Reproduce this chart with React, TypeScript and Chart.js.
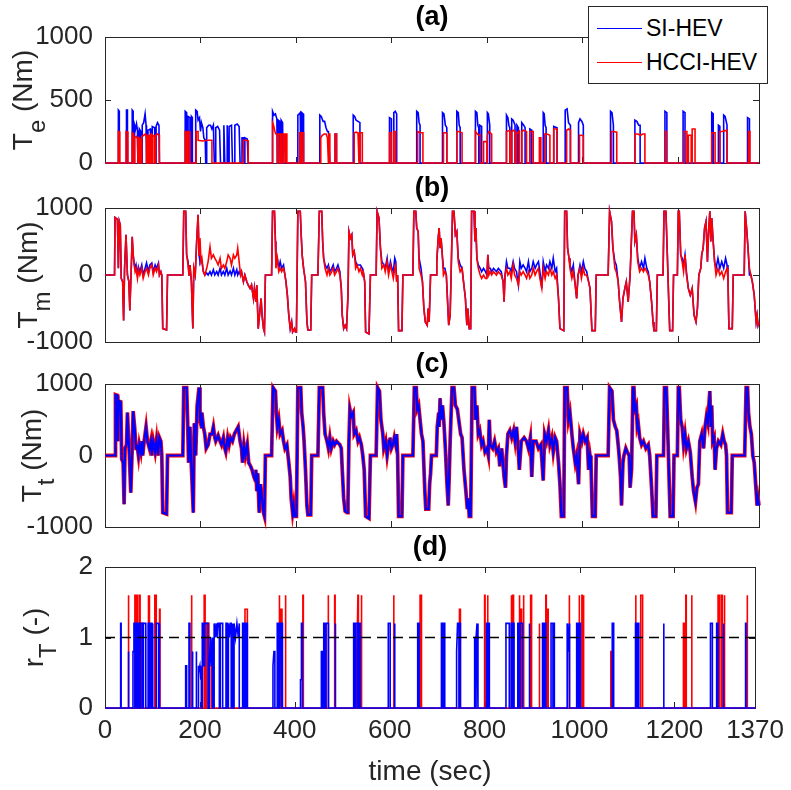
import React, { useEffect, useRef } from "react";
import { Chart, registerables } from "chart.js";

Chart.register(...registerables);

type Pt = [number, number];

// ---------- axes / labels ----------
const timeTicks = [0, 200, 400, 600, 800, 1000, 1200, 1370];
const engineTicks = [0, 500, 1000];
const torqueTicks = [-1000, 0, 1000];
const ratioTicks = [0, 1, 2];
const seriesNames = ["SI-HEV", "HCCI-HEV"];
const ratioThreshold = 1;

// ---------- (a) engine torque T_e ----------
const siEngine: Pt[] = [
  [0, 0], [28, 0], [28, 420], [30, 410], [30, 0],
  [45, 0], [45, 420], [47, 420], [47, 0],
  [57, 0], [57, 420], [59, 410], [59, 0],
  [62, 0], [62, 300], [64, 270], [66, 310], [68, 260], [69, 0],
  [72, 0], [72, 270], [75, 250], [76, 0],
  [78, 0], [78, 300], [81, 320], [84, 390], [86, 300], [87, 0],
  [90, 0], [90, 260], [95, 270], [96, 0],
  [99, 0], [99, 290], [104, 280], [105, 0],
  [107, 0], [107, 290], [110, 320], [113, 300], [114, 0],
  [168, 0], [168, 410], [171, 400], [171, 0],
  [174, 0], [174, 370], [178, 360], [178, 0],
  [181, 0], [181, 370], [183, 360], [183, 0],
  [190, 0], [190, 420], [193, 410], [195, 340], [198, 360], [200, 250], [202, 320], [205, 280], [207, 200], [210, 180], [211, 0],
  [213, 0], [213, 280], [217, 300], [221, 300], [224, 270], [227, 300], [229, 0],
  [231, 0], [232, 280], [236, 290], [240, 260], [242, 0],
  [249, 0], [249, 300], [251, 0], [256, 0], [256, 300], [258, 0],
  [260, 0], [260, 290], [265, 300], [267, 0],
  [272, 0], [272, 300], [277, 310], [281, 290], [283, 0],
  [287, 0], [287, 200], [290, 200], [291, 0], [293, 0], [293, 200], [298, 190], [300, 0],
  [351, 0], [351, 410], [354, 380], [357, 390], [360, 350], [361, 0],
  [363, 0], [363, 340], [366, 330], [367, 0], [369, 0], [369, 340], [372, 320], [373, 0],
  [404, 0], [404, 380], [407, 390], [409, 400], [410, 0], [412, 0], [412, 400], [415, 390], [416, 0],
  [450, 0], [450, 380], [453, 370], [457, 330], [460, 330], [463, 280], [466, 250], [468, 250], [471, 0],
  [482, 0], [482, 230], [485, 230], [485, 0],
  [520, 0], [520, 380], [523, 370], [526, 340], [530, 330], [534, 320], [534, 0],
  [596, 0], [596, 360], [600, 350], [600, 0],
  [605, 0], [605, 400], [608, 410], [611, 390], [611, 0],
  [653, 0], [653, 410], [656, 400], [658, 320], [660, 300], [660, 0],
  [707, 0], [707, 400], [710, 390], [713, 300], [716, 280], [716, 0],
  [737, 0], [737, 410], [740, 400], [742, 300], [744, 280], [744, 0],
  [776, 0], [776, 410], [779, 400], [781, 300], [783, 280], [783, 0], [785, 0], [785, 300], [789, 290], [789, 0],
  [801, 0], [801, 400], [803, 390], [806, 300], [806, 0],
  [841, 0], [841, 380], [844, 360], [846, 300], [848, 280], [848, 0],
  [852, 0], [852, 350], [855, 340], [859, 300], [859, 0],
  [863, 0], [863, 300], [866, 280], [866, 0],
  [873, 0], [873, 320], [877, 300], [880, 280], [880, 0],
  [890, 0], [890, 270], [894, 260], [894, 0],
  [918, 0], [918, 400], [920, 390], [922, 300], [924, 280], [924, 0],
  [940, 0], [940, 290], [947, 280], [947, 0],
  [964, 0], [964, 420], [968, 430], [971, 320], [975, 300], [975, 0],
  [992, 0], [992, 320], [995, 350], [999, 330], [1002, 300], [1002, 0],
  [1059, 0], [1059, 410], [1062, 400], [1065, 300], [1065, 0],
  [1110, 0], [1110, 340], [1114, 330], [1118, 300], [1121, 300], [1121, 0],
  [1173, 0], [1173, 410], [1177, 400], [1177, 0],
  [1211, 0], [1211, 410], [1215, 400], [1215, 0],
  [1271, 0], [1271, 400], [1274, 390], [1274, 0],
  [1285, 0], [1285, 300], [1288, 290], [1288, 0],
  [1296, 0], [1296, 380], [1299, 370], [1303, 300], [1303, 0],
  [1346, 0], [1346, 360], [1350, 350], [1350, 0],
  [1370, 0],
];

const hcciEngine: Pt[] = [
  [0, 0], [28, 0], [28, 250], [31, 245], [31, 0],
  [44, 0], [44, 250], [48, 245], [48, 0],
  [57, 0], [57, 240], [60, 230], [60, 0],
  [62, 0], [62, 200], [66, 210], [68, 190], [69, 0],
  [71, 0], [71, 200], [74, 190], [74, 0],
  [77, 0], [77, 210], [81, 220], [84, 230], [87, 200], [87, 0],
  [89, 0], [89, 220], [92, 210], [92, 0], [94, 0], [94, 220], [97, 230], [97, 0],
  [100, 0], [100, 220], [104, 210], [104, 0], [106, 0], [106, 220], [110, 230], [114, 220], [114, 0],
  [168, 0], [168, 250], [171, 245], [171, 0],
  [174, 0], [174, 250], [178, 245], [178, 0],
  [191, 0], [191, 250], [195, 250], [195, 180], [205, 175], [215, 180], [224, 180], [224, 0],
  [290, 0], [290, 180], [296, 180], [300, 175], [300, 0],
  [351, 0], [351, 320], [353, 300], [356, 250], [358, 230], [361, 230], [361, 0],
  [363, 0], [363, 230], [367, 230], [367, 0], [369, 0], [369, 230], [373, 230], [373, 0],
  [375, 0], [375, 230], [378, 230], [378, 0], [379, 0], [379, 230], [381, 230], [381, 0],
  [408, 0], [408, 240], [410, 240], [410, 0], [412, 0], [412, 240], [416, 240], [416, 0],
  [452, 0], [452, 200], [455, 220], [459, 230], [463, 230], [466, 200], [468, 0], [469, 0], [469, 230], [471, 230], [471, 0],
  [482, 0], [482, 230], [485, 230], [485, 0],
  [522, 0], [522, 240], [526, 245], [530, 240], [532, 0], [534, 0], [534, 240], [539, 240], [539, 0],
  [596, 0], [596, 240], [600, 240], [600, 0],
  [605, 0], [605, 250], [609, 250], [609, 0],
  [655, 0], [655, 250], [658, 245], [662, 240], [666, 240], [666, 0],
  [709, 0], [709, 240], [713, 240], [716, 235], [716, 0],
  [737, 0], [737, 250], [741, 250], [745, 245], [748, 240], [748, 0],
  [776, 0], [776, 250], [780, 230], [783, 220], [786, 225], [786, 0],
  [793, 0], [793, 170], [800, 170], [800, 0],
  [801, 0], [801, 220], [804, 250], [807, 240], [810, 230], [810, 0],
  [841, 0], [841, 250], [845, 255], [848, 260], [848, 0], [852, 0], [852, 250], [856, 260], [859, 250], [859, 0],
  [862, 0], [862, 230], [866, 250], [868, 255], [868, 0], [873, 0], [873, 250], [877, 260], [880, 255], [883, 250], [883, 0],
  [890, 0], [890, 250], [897, 250], [897, 0],
  [910, 0], [910, 200], [913, 200], [913, 0],
  [921, 0], [921, 230], [926, 230], [932, 220], [932, 0],
  [940, 0], [940, 270], [947, 270], [947, 0],
  [967, 0], [967, 260], [971, 270], [975, 260], [975, 0],
  [994, 0], [994, 220], [998, 220], [1002, 215], [1002, 0],
  [1061, 0], [1061, 250], [1065, 250], [1072, 245], [1072, 0],
  [1110, 0], [1110, 230], [1116, 230], [1122, 220], [1126, 230], [1131, 230], [1131, 0],
  [1174, 0], [1174, 250], [1176, 250], [1176, 0],
  [1213, 0], [1213, 250], [1219, 250], [1219, 0], [1222, 0], [1222, 220], [1228, 220], [1228, 0], [1230, 0], [1230, 270], [1236, 270], [1236, 0],
  [1271, 0], [1271, 240], [1278, 240], [1278, 0],
  [1288, 0], [1288, 250], [1293, 250], [1297, 255], [1303, 260], [1303, 0],
  [1348, 0], [1348, 250], [1351, 250], [1351, 0],
  [1370, 0],
];

// ---------- (b) motor torque T_m ----------
const siMotor: Pt[] = [
  [0, 0], [20, 0], [21, 860], [26, 830], [28, 100], [30, 800], [32, 750], [34, -50], [37, -100], [39, -680], [41, 100], [44, 600], [47, 0], [50, -100], [52, -530], [55, 100], [57, 570], [59, 300], [61, 180], [63, 100], [65, 150], [68, 0], [70, 120], [73, 50], [77, 150], [80, 0], [84, 100], [87, 180], [91, 50], [94, 150], [98, 180], [101, 50], [105, 150], [108, 100], [112, 180], [114, 0], [117, 50], [119, 0], [121, -800], [129, -820], [131, 0],
  [163, 0], [165, 950], [169, 950], [171, 300], [174, 200], [176, 0], [178, 150], [181, -100], [184, -800], [186, 100], [189, 0], [192, 500], [195, 900], [197, 300], [199, 200], [201, 250], [203, 200], [206, 50], [209, 0], [213, 30], [216, 0], [220, 50], [223, 0], [227, 80], [230, 0], [234, 50], [237, 0], [241, 100], [244, 0], [248, 50], [251, 0], [255, 100], [258, 0], [262, 60], [265, 0], [269, 100], [272, 0], [276, 80], [278, 0], [281, 50], [284, 0], [286, 50], [290, -100], [293, 0], [297, -100], [300, -150], [304, -200], [307, -150], [311, -350], [313, -200], [316, -400], [318, -150], [321, -800], [325, -500], [327, -350], [329, -600], [332, -800], [334, -850], [336, 0],
  [349, 0], [351, 950], [355, 950], [357, 500], [358, 200], [361, 250], [364, 100], [367, 200], [370, 100], [374, 150], [377, 0], [379, -100], [382, -300], [385, -600], [388, -800], [391, -700], [393, -850], [397, -800], [399, -850], [401, -850], [404, 950], [409, 950], [411, 600], [413, 300], [416, 100], [418, 0], [420, -100], [423, -700], [425, -820], [431, -820], [433, 0],
  [446, 0], [449, 950], [454, 950], [456, 500], [458, 250], [461, 150], [465, 100], [468, 150], [471, 50], [475, 100], [478, 150], [481, 50], [485, 100], [488, 150], [492, 50], [495, -200], [497, -600], [500, -800], [503, -750], [506, -800], [509, -300], [511, 650], [514, 550], [517, 600], [519, 300], [522, 350], [525, 200], [528, 150], [532, 150], [535, 150], [539, 100], [541, 50], [544, -100], [546, -850], [553, -880], [556, 0],
  [568, 0], [570, 950], [574, 850], [577, 400], [580, 200], [584, 150], [587, 100], [591, 250], [594, 50], [598, 200], [601, 100], [604, 50], [607, 250], [609, 200], [611, -100], [613, 0], [615, -830], [622, -830], [624, 0],
  [645, 0], [647, 950], [651, 950], [653, 700], [656, 650], [658, 250], [662, 100], [665, -100], [668, -500], [671, -700], [675, -750], [677, -500], [679, -700], [682, 0],
  [694, 0], [695, 200], [698, 550], [700, 700], [702, 400], [704, 550], [706, 350], [709, 100], [712, 100], [715, 0], [717, -300], [720, -750], [723, -600], [725, 0], [728, 950], [731, 950], [734, 600], [737, 650], [740, 250], [744, 150], [748, 100], [751, -100], [755, -350], [758, -750], [760, -500], [763, -800], [766, -800], [768, 950], [773, 950], [775, 500], [777, 700], [779, 250], [782, 150], [786, 100], [789, 50], [793, 100], [797, 50], [800, 0], [802, 300], [804, 100], [807, 100], [810, 50], [814, 100], [820, 50], [824, 100], [830, 50], [834, -100], [836, -400], [838, 0], [841, 200], [844, 100], [848, 100], [851, 50], [855, 200], [858, 100], [862, 50], [866, -150], [869, 200], [872, 100], [876, 150], [880, 100], [883, 50], [887, 200], [890, 50], [894, 100], [897, 200], [901, 100], [904, 150], [908, 200], [911, 50], [915, -200], [918, 200], [922, 50], [925, 150], [929, 100], [932, 200], [936, 100], [939, 250], [943, 50], [946, 100], [950, -350], [953, -800], [961, -830], [963, 950], [967, 950], [969, 400], [972, 250], [974, 150], [978, 50], [981, 150], [985, -150], [988, -350], [991, 0], [995, 150], [998, 50], [1002, 200], [1005, 100], [1009, 50], [1013, -100], [1016, -200], [1020, -830], [1027, -830], [1029, 0],
  [1054, 0], [1057, 950], [1061, 800], [1064, 400], [1068, 200], [1071, 150], [1075, -100], [1078, -400], [1082, -700], [1085, -350], [1089, -200], [1092, -100], [1096, -400], [1100, 0], [1105, 950], [1108, 950], [1110, 500], [1113, 600], [1116, 250], [1120, 100], [1124, 200], [1128, 100], [1131, 250], [1135, 100], [1138, 50], [1141, -100], [1145, -400], [1148, -700], [1150, -830], [1155, -830], [1157, 0], [1169, 0], [1171, 950], [1175, 950], [1178, 300], [1181, -400], [1183, -830], [1189, -830], [1191, 0], [1199, 0], [1201, 950], [1203, 950], [1206, 300], [1209, 250], [1212, 150], [1215, 300], [1218, 50], [1222, -200], [1226, -300], [1230, -200], [1234, -600], [1238, -700], [1241, -500], [1244, 0], [1248, 100], [1250, 300], [1253, 400], [1256, 700], [1259, 800], [1262, 200], [1264, 600], [1267, 950], [1269, 500], [1271, 850], [1274, 500], [1277, 200], [1280, 100], [1284, 250], [1288, 100], [1292, 200], [1296, 100], [1300, 250], [1303, 150], [1305, -50], [1307, -800], [1314, -800], [1316, 0], [1339, 0], [1341, 950], [1344, 700], [1347, 400], [1350, 0], [1353, 0], [1356, -100], [1360, -300], [1364, -700], [1366, -600], [1368, -750], [1370, -700],
];

const hcciMotor: Pt[] = [
  [0, 0], [20, 0], [21, 860], [26, 830], [28, 100], [30, 800], [32, 750], [34, -50], [37, -100], [39, -680], [41, 100], [44, 600], [47, 0], [50, -100], [52, -530], [55, 100], [57, 570], [59, 300], [61, 150], [63, 50], [65, 100], [68, -50], [70, 80], [73, 0], [77, 100], [80, -50], [84, 50], [87, 100], [91, 0], [94, 100], [98, 150], [101, 0], [105, 100], [108, 50], [112, 150], [114, 0], [117, 50], [119, 0], [121, -800], [129, -820], [131, 0],
  [163, 0], [165, 950], [169, 950], [171, 300], [174, 150], [176, 0], [178, 150], [181, -100], [184, -800], [186, 100], [189, 0], [192, 500], [195, 900], [197, 300], [199, 550], [201, 200], [203, 250], [206, 50], [209, 0], [213, 100], [216, 200], [220, 420], [223, 250], [227, 300], [230, 250], [234, 200], [237, 150], [241, 250], [244, 100], [248, 150], [251, 100], [255, 200], [258, 300], [262, 250], [265, 150], [269, 300], [272, 250], [276, 300], [278, 400], [281, 200], [284, 0], [286, 50], [290, -100], [293, 0], [297, -100], [300, -150], [304, -200], [307, -150], [311, -350], [313, -200], [316, -400], [318, -150], [321, -800], [325, -500], [327, -350], [329, -600], [332, -800], [334, -850], [336, 0],
  [349, 0], [351, 950], [355, 950], [357, 500], [358, 100], [361, 250], [364, 50], [367, 100], [370, 50], [374, 100], [377, 0], [379, -100], [382, -300], [385, -600], [388, -800], [391, -700], [393, -850], [397, -800], [399, -850], [401, -850], [404, 950], [409, 950], [411, 600], [413, 300], [416, 100], [418, 0], [420, -100], [423, -700], [425, -820], [431, -820], [433, 0],
  [446, 0], [449, 950], [454, 950], [456, 500], [458, 250], [461, 100], [465, 0], [468, 100], [471, 0], [475, 50], [478, 100], [481, 0], [485, 50], [488, 100], [492, 0], [495, -200], [497, -600], [500, -800], [503, -750], [506, -800], [509, -300], [511, 650], [514, 550], [517, 600], [519, 300], [522, 350], [525, 100], [528, 150], [532, 50], [535, 100], [539, 0], [541, 50], [544, -100], [546, -850], [553, -880], [556, 0],
  [568, 0], [570, 950], [574, 850], [577, 400], [580, 100], [584, 150], [587, 50], [591, 200], [594, 0], [598, 150], [601, 50], [604, -50], [607, 100], [609, 150], [611, -100], [613, 0], [615, -830], [622, -830], [624, 0],
  [645, 0], [647, 950], [651, 950], [653, 700], [656, 650], [658, 100], [662, 0], [665, -100], [668, -500], [671, -700], [675, -750], [677, -500], [679, -700], [682, 0],
  [694, 0], [695, 200], [698, 550], [700, 700], [702, 400], [704, 550], [706, 350], [709, 0], [712, 50], [715, 0], [717, -300], [720, -750], [723, -600], [725, 0], [728, 950], [731, 950], [734, 600], [737, 650], [740, 200], [744, 50], [748, 100], [751, -100], [755, -350], [758, -750], [760, -500], [763, -800], [766, -800], [768, 950], [773, 950], [775, 500], [777, 700], [779, 250], [782, 100], [786, 0], [789, -50], [793, 0], [797, -50], [800, -50], [802, 300], [804, 0], [807, 50], [810, 0], [814, 50], [820, 0], [824, 50], [830, 0], [834, -100], [836, -400], [838, 0], [841, 100], [844, 0], [848, 50], [851, -50], [855, 150], [858, 0], [862, -50], [866, -150], [869, 50], [872, 0], [876, 50], [880, 0], [883, -50], [887, 50], [890, -50], [894, 0], [897, 100], [901, 0], [904, 50], [908, 100], [911, -50], [915, -200], [918, 100], [922, -50], [925, 50], [929, 0], [932, 100], [936, 0], [939, 50], [943, -50], [946, 0], [950, -350], [953, -800], [961, -830], [963, 950], [967, 950], [969, 400], [972, 250], [974, 100], [978, -50], [981, 50], [985, -150], [988, -350], [991, 0], [995, 100], [998, -50], [1002, 100], [1005, 0], [1009, 0], [1013, -100], [1016, -200], [1020, -830], [1027, -830], [1029, 0],
  [1054, 0], [1057, 950], [1061, 800], [1064, 400], [1068, 100], [1071, 50], [1075, -100], [1078, -400], [1082, -700], [1085, -350], [1089, -200], [1092, -100], [1096, -400], [1100, 0], [1105, 950], [1108, 950], [1110, 500], [1113, 600], [1116, 200], [1120, 50], [1124, 100], [1128, 50], [1131, 100], [1135, 50], [1138, 0], [1141, -100], [1145, -400], [1148, -700], [1150, -830], [1155, -830], [1157, 0], [1169, 0], [1171, 950], [1175, 950], [1178, 300], [1181, -400], [1183, -830], [1189, -830], [1191, 0], [1199, 0], [1201, 950], [1203, 950], [1206, 300], [1209, 200], [1212, 50], [1215, 300], [1218, 0], [1222, -200], [1226, -300], [1230, -200], [1234, -600], [1238, -700], [1241, -500], [1244, 0], [1248, 100], [1250, 300], [1253, 400], [1256, 700], [1259, 800], [1262, 200], [1264, 600], [1267, 950], [1269, 500], [1271, 850], [1274, 500], [1277, 200], [1280, 0], [1284, 100], [1288, 0], [1292, 50], [1296, -50], [1300, 50], [1303, 100], [1305, -50], [1307, -800], [1314, -800], [1316, 0], [1339, 0], [1341, 950], [1344, 700], [1347, 400], [1350, 100], [1353, 0], [1356, -100], [1360, -300], [1364, -700], [1366, -600], [1368, -750], [1370, -700],
];

// ---------- (c) total torque demand T_t (same for both vehicles) ----------
const totalTorque: Pt[] = [
  [0, 0], [21, 0], [22, 850], [26, 840], [27, 200], [29, 760], [33, 750], [35, -50], [38, -100], [40, -680], [42, 100], [45, 150], [47, 600], [49, 300], [51, 0], [54, -520], [57, 100], [59, 620], [62, 400], [65, 100], [67, 150], [70, 0], [72, 150], [75, 50], [77, 200], [79, 0], [82, 200], [86, 400], [89, 200], [93, 100], [96, 200], [98, 0], [101, 200], [105, 50], [108, 220], [111, 0], [114, 250], [117, 200], [119, 0], [121, -800], [129, -820], [131, 0],
  [163, 0], [165, 950], [171, 950], [173, 500], [175, -100], [178, 400], [180, 0], [185, -800], [187, 450], [190, 0], [193, 700], [197, 950], [199, 500], [202, 400], [203, 600], [206, 400], [209, 300], [212, 100], [216, 150], [220, 300], [224, 300], [227, 400], [230, 250], [232, 200], [237, 280], [241, 200], [244, 150], [248, 250], [251, 100], [253, 50], [257, 250], [260, 150], [263, 250], [267, 200], [271, 300], [279, 400], [283, 200], [286, 100], [288, -100], [291, 150], [294, 0], [298, 150], [301, -100], [305, -150], [308, -200], [312, -300], [315, -350], [316, -200], [318, -500], [320, -250], [323, -800], [326, -400], [329, -600], [332, -800], [334, -850], [336, 0],
  [349, 0], [352, 950], [357, 900], [359, 600], [361, 400], [364, 500], [367, 300], [371, 350], [374, 200], [377, 100], [381, 150], [385, -100], [388, -300], [390, -600], [393, -800], [395, -700], [397, -850], [401, -850], [404, 950], [410, 950], [412, 600], [415, 400], [417, 200], [420, -200], [423, -700], [425, -830], [431, -830], [433, 0],
  [446, 0], [449, 950], [456, 950], [458, 600], [461, 300], [465, 200], [468, 100], [471, 250], [474, 100], [478, 200], [481, 150], [485, 200], [492, 150], [495, 100], [497, -200], [500, -600], [503, -780], [507, -800], [509, -650], [511, 200], [513, 650], [516, 550], [520, 600], [522, 300], [526, 350], [530, 200], [533, 250], [537, 150], [540, 0], [543, -200], [546, -850], [553, -880], [556, 0],
  [568, 0], [571, 950], [575, 900], [578, 500], [582, 300], [584, 100], [588, 200], [591, 0], [595, 200], [597, 250], [600, 100], [603, 150], [606, 250], [609, 150], [611, 300], [613, 0], [615, -850], [622, -850], [624, 0],
  [645, 0], [648, 950], [652, 950], [654, 650], [657, 700], [660, 500], [663, 300], [666, 200], [670, -500], [672, -750], [678, -750], [680, -400], [682, -250], [684, 0],
  [694, 0], [696, 400], [699, 600], [700, 400], [702, 800], [704, 500], [707, 700], [710, 450], [713, 100], [716, -350], [719, -700], [721, -300], [723, 200], [727, 950], [731, 950], [734, 700], [738, 650], [741, 500], [745, 300], [748, 250], [752, -200], [756, -500], [759, -750], [761, -600], [763, -850], [766, -850], [769, 950], [774, 950], [776, 500], [779, 700], [782, 300], [785, 350], [789, 150], [792, 200], [796, 50], [800, 100], [803, 0], [805, 500], [807, 150], [812, 100], [816, 200], [820, 50], [824, 100], [827, -150], [831, 100], [836, -300], [839, -450], [841, 0], [844, 300], [848, 350], [852, 250], [856, 350], [859, 200], [862, 400], [865, 150], [868, -200], [872, 200], [878, 250], [883, 200], [887, 100], [891, 250], [894, -300], [897, 200], [903, 200], [908, 100], [913, 150], [918, -350], [921, 300], [925, 200], [929, 350], [932, 150], [936, 250], [939, 50], [943, 250], [946, 200], [950, -100], [953, -400], [956, -850], [961, -850], [963, 950], [968, 950], [971, 500], [974, 600], [978, 300], [981, 100], [985, -100], [988, 0], [992, -400], [995, 300], [999, 200], [1002, 300], [1006, 200], [1010, 250], [1013, -200], [1016, 0], [1018, -100], [1021, -850], [1027, -850], [1029, 0],
  [1054, 0], [1057, 950], [1062, 900], [1065, 500], [1069, 400], [1072, 350], [1075, 150], [1077, 0], [1080, -300], [1082, -700], [1085, -100], [1087, 0], [1091, 100], [1094, 50], [1098, 0], [1100, -450], [1103, -200], [1106, 950], [1108, 950], [1110, 650], [1113, 700], [1115, 400], [1117, 450], [1120, 250], [1124, 150], [1128, 200], [1133, 100], [1138, 150], [1141, 0], [1145, -450], [1148, -850], [1154, -850], [1156, 0], [1170, 0], [1172, 950], [1176, 950], [1179, 300], [1182, -400], [1184, -850], [1190, -850], [1192, 0], [1199, 0], [1201, 950], [1203, 950], [1206, 500], [1209, 400], [1212, 150], [1215, 300], [1218, 100], [1222, 200], [1226, 50], [1230, -300], [1233, -500], [1237, -650], [1240, -450], [1243, -400], [1246, 200], [1250, 300], [1254, 100], [1257, 400], [1260, 550], [1263, 450], [1265, 700], [1267, 900], [1269, 400], [1271, 700], [1273, 200], [1276, 250], [1278, -200], [1281, 100], [1285, 200], [1290, 150], [1294, 300], [1297, 200], [1300, 150], [1302, 0], [1304, -800], [1312, -800], [1314, 0], [1340, 0], [1343, 950], [1346, 950], [1348, 600], [1351, 400], [1354, 300], [1357, 0], [1360, -100], [1363, -400], [1366, -700], [1368, -600], [1370, -700],
];

// ---------- (d) torque ratio r_T ----------
const siRatio: Pt[] = [
  [0, 0], [33, 0], [33, 1.2], [34, 1.2], [34, 0],
  [49, 0], [49, 0.8], [50, 0.8], [50, 0],
  [59, 0], [59, 0.8], [61, 0.8], [61, 1.2], [63, 1.2], [63, 0],
  [66, 0], [66, 1.2], [68, 1.2], [68, 0], [70, 0], [70, 1.2], [73, 1.2], [73, 0], [75, 0], [75, 1.2], [79, 1.2], [79, 0], [81, 0], [81, 1.2], [86, 1.2], [86, 0],
  [91, 0], [91, 1.2], [94, 1.2], [94, 0], [96, 0], [96, 1.2], [99, 1.2], [99, 0], [100, 0], [100, 1.2], [101, 1.2], [101, 0],
  [108, 0], [108, 1.2], [113, 1.2], [113, 0], [114, 0], [114, 1.2], [115, 1.2], [115, 0],
  [170, 0], [170, 0.6], [172, 0.6], [172, 0], [177, 0], [177, 1.2], [179, 1.2], [179, 0],
  [184, 0], [184, 0.8], [185, 0.8], [185, 0],
  [192, 0], [192, 0.8], [193, 0.8], [193, 0],
  [196, 0], [196, 0.6], [198, 0.5], [200, 0.6], [202, 0.4], [203, 0.6], [203, 0],
  [205, 0], [205, 1.2], [208, 1.2], [208, 0.6], [210, 0.6], [210, 1.2], [217, 1.2], [217, 0],
  [220, 0], [220, 0.6], [222, 1.0], [224, 0.6], [226, 1.0], [227, 1.0], [227, 0],
  [230, 0], [230, 1.2], [232, 1.0], [234, 1.2], [236, 1.0], [238, 1.2], [241, 1.2], [241, 0], [243, 0], [243, 1.2], [248, 1.2], [248, 0],
  [255, 0], [255, 1.2], [258, 1.2], [258, 0], [260, 0], [260, 1.2], [262, 1.0], [264, 1.2], [266, 1.2], [266, 0], [268, 0], [268, 1.2], [269, 1.2], [269, 0],
  [272, 0], [272, 1.2], [275, 1.0], [278, 1.2], [281, 1.0], [283, 1.2], [283, 0],
  [290, 0], [290, 1.2], [292, 1.2], [292, 0], [294, 0], [294, 1.2], [297, 1.2], [297, 0], [299, 0], [299, 1.2], [300, 1.2], [300, 0],
  [354, 0], [354, 0.6], [356, 0.8], [358, 0.8], [358, 0], [363, 0], [363, 1.2], [366, 1.2], [366, 0], [368, 0], [368, 1.2], [371, 1.2], [371, 0], [373, 0], [373, 1.2], [374, 1.2], [374, 0],
  [412, 0], [412, 0.4], [414, 0.4], [414, 1.2], [416, 1.2], [416, 0],
  [456, 0], [456, 0.8], [459, 0.8], [459, 0], [461, 0], [461, 1.2], [464, 1.2], [464, 0], [466, 0], [466, 1.2], [471, 1.2], [471, 0],
  [485, 0], [485, 1.2], [486, 1.2], [486, 0],
  [524, 0], [524, 1.2], [527, 1.2], [527, 0], [529, 0], [529, 1.2], [533, 1.2], [533, 0], [536, 0], [536, 1.2], [538, 1.2], [538, 0],
  [597, 0], [597, 1.2], [601, 1.2], [601, 0], [610, 0], [610, 1.2], [611, 1.2], [611, 0],
  [659, 0], [659, 1.2], [662, 1.2], [662, 0],
  [709, 0], [709, 1.2], [711, 1.2], [711, 0], [714, 0], [714, 1.2], [716, 1.2], [716, 0],
  [741, 0], [741, 0.8], [743, 1.2], [746, 1.2], [746, 0], [748, 0], [748, 1.2], [749, 1.2], [749, 0],
  [779, 0], [779, 1.0], [781, 1.0], [781, 0], [782, 0], [782, 1.0], [784, 1.2], [786, 1.2], [786, 0],
  [804, 0], [804, 1.2], [806, 1.2], [806, 0], [808, 0], [808, 1.2], [810, 1.2], [810, 0],
  [845, 0], [845, 1.2], [852, 1.2], [852, 0], [856, 0], [856, 1.2], [859, 1.2], [859, 0], [861, 0], [861, 1.2], [862, 1.2], [862, 0],
  [870, 0], [870, 1.2], [873, 1.2], [873, 0], [875, 0], [875, 1.2], [880, 1.2], [880, 0],
  [894, 0], [894, 1.2], [895, 1.2], [895, 0],
  [922, 0], [922, 1.2], [925, 1.2], [925, 0], [927, 0], [927, 1.2], [929, 1.2], [929, 0],
  [940, 0], [940, 1.2], [944, 1.2], [944, 0], [946, 0], [946, 1.2], [947, 1.2], [947, 0],
  [974, 0], [974, 1.2], [976, 0.8], [978, 1.2], [979, 1.2], [979, 0],
  [994, 0], [994, 1.2], [997, 1.2], [997, 0], [999, 0], [999, 1.2], [1002, 1.2], [1002, 0],
  [1069, 0], [1069, 1.2], [1072, 1.2], [1072, 0],
  [1118, 0], [1118, 1.2], [1121, 1.2], [1121, 0], [1123, 0], [1123, 1.2], [1125, 1.2], [1125, 0],
  [1177, 0], [1177, 1.2], [1178, 1.2], [1178, 0],
  [1276, 0], [1276, 1.2], [1280, 1.2], [1280, 0], [1289, 0], [1289, 1.2], [1292, 1.2], [1292, 0], [1303, 0], [1303, 1.2], [1304, 1.2], [1304, 0],
  [1350, 0], [1350, 1.2], [1351, 1.2], [1351, 0],
  [1370, 0],
];

const hcciRatio: Pt[] = [
  [0, 0], [49, 0], [49, 1.6], [50, 1.6], [50, 0],
  [63, 0], [63, 1.6], [65, 1.6], [65, 0], [67, 0], [67, 1.6], [69, 1.6], [69, 0],
  [73, 0], [73, 1.6], [74, 1.6], [74, 0],
  [77, 0], [77, 1.2], [80, 1.2], [80, 0],
  [91, 0], [91, 1.6], [92, 1.6], [92, 0], [93, 0], [93, 1.6], [94, 1.6], [94, 0],
  [97, 0], [97, 1.2], [99, 1.2], [99, 0],
  [105, 0], [105, 1.6], [106, 1.6], [106, 0], [107, 0], [107, 1.6], [108, 1.6], [108, 0],
  [115, 0], [115, 1.4], [116, 1.4], [116, 0],
  [182, 0], [182, 1.6], [183, 1.6], [183, 0],
  [209, 0], [209, 1.6], [211, 1.6], [211, 0],
  [214, 0], [214, 1.2], [219, 1.2], [219, 0.6], [224, 0.6], [224, 0],
  [295, 0], [295, 1.4], [300, 1.4], [300, 0],
  [367, 0], [367, 1.6], [368, 1.6], [368, 0], [370, 0], [370, 1.4], [373, 1.4], [373, 0], [380, 0], [380, 1.6], [381, 1.6], [381, 0],
  [417, 0], [417, 1.6], [418, 1.6], [418, 0],
  [462, 0], [462, 0.2], [463, 0.2], [463, 0], [470, 0], [470, 1.6], [471, 1.6], [471, 0], [484, 0], [484, 1.6], [485, 1.6], [485, 0],
  [531, 0], [531, 0.8], [533, 1.6], [534, 1.6], [534, 0], [540, 0], [540, 1.6], [541, 1.6], [541, 0],
  [608, 0], [608, 1.6], [609, 1.6], [609, 0],
  [664, 0], [664, 1.6], [667, 1.6], [667, 0],
  [747, 0], [747, 1.4], [749, 1.4], [749, 0],
  [800, 0], [800, 1.6], [801, 1.6], [801, 0], [806, 0], [806, 1.6], [807, 1.6], [807, 0],
  [856, 0], [856, 1.6], [857, 1.6], [857, 0], [859, 0], [859, 1.6], [861, 1.6], [861, 0],
  [873, 0], [873, 1.6], [874, 1.6], [874, 0], [876, 0], [876, 1.4], [878, 1.4], [878, 0], [881, 0], [881, 1.6], [883, 1.6], [883, 0],
  [897, 0], [897, 1.6], [899, 1.6], [899, 0],
  [915, 0], [915, 1.2], [916, 1.2], [916, 0],
  [929, 0], [929, 1.6], [930, 1.6], [930, 0], [933, 0], [933, 1.4], [934, 1.4], [934, 0],
  [978, 0], [978, 1.6], [979, 1.6], [979, 0],
  [999, 0], [999, 1.6], [1000, 1.6], [1000, 0], [1005, 0], [1005, 1.6], [1006, 1.6], [1006, 0], [1008, 0], [1008, 1.6], [1009, 1.6], [1009, 0],
  [1066, 0], [1066, 0.8], [1067, 0.8], [1067, 0],
  [1118, 0], [1118, 1.6], [1119, 1.6], [1119, 0], [1129, 0], [1129, 1.6], [1133, 1.6], [1133, 0],
  [1219, 0], [1219, 1.2], [1221, 1.2], [1221, 0], [1224, 0], [1224, 1.6], [1225, 1.6], [1225, 0], [1236, 0], [1236, 1.6], [1237, 1.6], [1237, 0],
  [1292, 0], [1292, 1.6], [1295, 1.6], [1295, 0], [1299, 0], [1299, 1.6], [1301, 1.6], [1301, 0], [1305, 0], [1305, 1.6], [1306, 1.6], [1306, 0],
  [1353, 0], [1353, 1.6], [1354, 1.6], [1354, 0],
  [1370, 0],
];

// ---------- styling ----------
const FONT = '"Liberation Sans", Arial, Helvetica, sans-serif';
const INK = "#262626";
const BLUE = "#0000ff";
const RED = "#ff0000";
const W = 791;
const H = 790;

const toXY = (arr: Pt[]) => arr.map(([x, y]) => ({ x, y }));

interface PanelSpec {
  top: number;
  bottom: number;
  yMin: number;
  yMax: number;
  yTicks: number[];
  title: string;
  labelMain: string;
  labelSub: string;
  labelRest: string;
  labelX: number;
  showX: boolean;
  datasets: any[];
}

const line = (data: Pt[], color: string, width: number, order: number, extra: any = {}) => ({
  data: toXY(data),
  borderColor: color,
  backgroundColor: color,
  borderWidth: width,
  pointRadius: 0,
  fill: false,
  tension: 0,
  clip: false,
  order,
  ...extra,
});

const panels: PanelSpec[] = [
  {
    top: 37, bottom: 163, yMin: 0, yMax: 1000, yTicks: engineTicks, title: "(a)",
    labelMain: "T", labelSub: "e", labelRest: " (Nm)", labelX: 32, showX: false,
    datasets: [line(siEngine, BLUE, 1.6, 1), line(hcciEngine, RED, 1.6, 0)],
  },
  {
    top: 208, bottom: 342, yMin: -1000, yMax: 1000, yTicks: torqueTicks, title: "(b)",
    labelMain: "T", labelSub: "m", labelRest: " (Nm)", labelX: 37, showX: false,
    datasets: [line(siMotor, BLUE, 1.6, 1), line(hcciMotor, RED, 1.6, 0)],
  },
  {
    top: 384, bottom: 527, yMin: -1000, yMax: 1000, yTicks: torqueTicks, title: "(c)",
    labelMain: "T", labelSub: "t", labelRest: " (Nm)", labelX: 41, showX: false,
    datasets: [line(totalTorque, BLUE, 2.2, 0), line(totalTorque, RED, 3.8, 1)],
  },
  {
    top: 567, bottom: 708, yMin: 0, yMax: 2, yTicks: ratioTicks, title: "(d)",
    labelMain: "r", labelSub: "T", labelRest: " (-)", labelX: 43, showX: true,
    datasets: [
      line(siRatio, BLUE, 1.6, 1),
      line(hcciRatio, RED, 1.6, 2),
      line([[0, ratioThreshold], [1370, ratioThreshold]], "#000000", 1.5, 0, { borderDash: [10, 6] }),
    ],
  },
];

const decorPlugin = (spec: PanelSpec) => ({
  id: "decor",
  beforeDatasetsDraw(chart: any) {
    const { ctx, chartArea: a, scales } = chart;
    ctx.save();
    ctx.strokeStyle = INK;
    ctx.lineWidth = 1;
    ctx.beginPath();
    for (const t of timeTicks) {
      const x = Math.round(scales.x.getPixelForValue(t)) + 0.5;
      ctx.moveTo(x, a.top);
      ctx.lineTo(x, a.top + 6);
      ctx.moveTo(x, a.bottom);
      ctx.lineTo(x, a.bottom - 6);
    }
    for (const v of spec.yTicks) {
      const y = Math.round(scales.y.getPixelForValue(v)) + 0.5;
      ctx.moveTo(a.left, y);
      ctx.lineTo(a.left + 6, y);
      ctx.moveTo(a.right, y);
      ctx.lineTo(a.right - 6, y);
    }
    ctx.stroke();
    ctx.strokeRect(Math.round(a.left) + 0.5, Math.round(a.top) + 0.5, Math.round(a.right - a.left), Math.round(a.bottom - a.top));
    ctx.restore();
  },
  afterDraw(chart: any) {
    const { ctx, chartArea: a } = chart;
    ctx.save();
    // panel title
    ctx.fillStyle = "#000";
    ctx.font = `bold 27px ${FONT}`;
    ctx.textAlign = "center";
    ctx.textBaseline = "middle";
    ctx.fillText(spec.title, (a.left + a.right) / 2, a.top - 19);
    // y label with subscript
    const mainFont = `28px ${FONT}`;
    const subFont = `24px ${FONT}`;
    ctx.font = mainFont;
    const w1 = ctx.measureText(spec.labelMain).width;
    const w3 = ctx.measureText(spec.labelRest).width;
    ctx.font = subFont;
    const w2 = ctx.measureText(spec.labelSub).width;
    const total = w1 + w2 + w3;
    const cy = (a.top + a.bottom) / 2;
    ctx.translate(spec.labelX, cy);
    ctx.rotate(-Math.PI / 2);
    ctx.fillStyle = INK;
    ctx.textAlign = "left";
    ctx.textBaseline = "alphabetic";
    let x0 = -total / 2;
    ctx.font = mainFont;
    ctx.fillText(spec.labelMain, x0, 0);
    x0 += w1;
    ctx.font = subFont;
    ctx.fillText(spec.labelSub, x0, 13);
    x0 += w2;
    ctx.font = mainFont;
    ctx.fillText(spec.labelRest, x0, 0);
    ctx.restore();
  },
});

function makeConfig(spec: PanelSpec): any {
  return {
    type: "line",
    data: { datasets: spec.datasets },
    options: {
      responsive: false,
      maintainAspectRatio: false,
      animation: false,
      devicePixelRatio: 1,
      events: [],
      layout: {
        padding: { left: 0, right: W - 759, top: spec.top, bottom: spec.showX ? 0 : H - spec.bottom },
      },
      plugins: { legend: { display: false }, tooltip: { enabled: false }, title: { display: false } },
      scales: {
        x: {
          type: "linear",
          min: 0,
          max: 1370,
          display: spec.showX,
          grid: { display: false, drawTicks: false },
          border: { display: false },
          afterBuildTicks: (s: any) => {
            s.ticks = timeTicks.map((v) => ({ value: v }));
          },
          afterFit: (s: any) => {
            if (spec.showX) s.height = H - spec.bottom;
          },
          ticks: {
            font: { family: FONT, size: 26 },
            color: INK,
            padding: 7,
            maxRotation: 0,
            autoSkip: false,
            callback: (v: any) => String(v),
          },
          title: {
            display: spec.showX,
            text: "time (sec)",
            font: { family: FONT, size: 28 },
            color: INK,
            padding: { top: 0, bottom: 1 },
          },
        },
        y: {
          type: "linear",
          min: spec.yMin,
          max: spec.yMax,
          grid: { display: false, drawTicks: false },
          border: { display: false },
          afterBuildTicks: (s: any) => {
            s.ticks = spec.yTicks.map((v) => ({ value: v }));
          },
          afterFit: (s: any) => {
            s.width = 105;
          },
          ticks: {
            font: { family: FONT, size: 26 },
            color: INK,
            padding: 12,
            autoSkip: false,
            callback: (v: any) => String(v),
          },
        },
      },
    },
    plugins: [decorPlugin(spec)],
  };
}

export default function App() {
  const refs = [useRef<HTMLCanvasElement>(null), useRef<HTMLCanvasElement>(null), useRef<HTMLCanvasElement>(null), useRef<HTMLCanvasElement>(null)];

  useEffect(() => {
    const charts = panels.map((spec, i) => new Chart(refs[i].current as HTMLCanvasElement, makeConfig(spec)));
    return () => charts.forEach((c) => c.destroy());
  }, []);

  const canvasStyle: React.CSSProperties = { position: "absolute", left: 0, top: 0, width: W, height: H };

  return (
    <div style={{ position: "absolute", left: 0, top: 0, width: W, height: H, background: "#fff", overflow: "hidden" }}>
      {refs.map((r, i) => (
        <canvas key={i} ref={r} width={W} height={H} style={canvasStyle} />
      ))}
      <div
        style={{
          position: "absolute",
          left: 588,
          top: 6,
          width: 180,
          height: 78,
          boxSizing: "border-box",
          border: `1px solid ${INK}`,
          background: "#fff",
          fontFamily: FONT,
          fontSize: 23,
          color: "#000",
        }}
      >
        <div style={{ position: "absolute", left: 8, top: 21, width: 45, height: 0, borderTop: `1.5px solid ${BLUE}` }} />
        <span style={{ position: "absolute", left: 57, top: 10, lineHeight: "23px", whiteSpace: "nowrap" }}>{seriesNames[0]}</span>
        <div style={{ position: "absolute", left: 8, top: 55, width: 45, height: 0, borderTop: `1.5px solid ${RED}` }} />
        <span style={{ position: "absolute", left: 57, top: 44, lineHeight: "23px", whiteSpace: "nowrap" }}>{seriesNames[1]}</span>
      </div>
    </div>
  );
}
